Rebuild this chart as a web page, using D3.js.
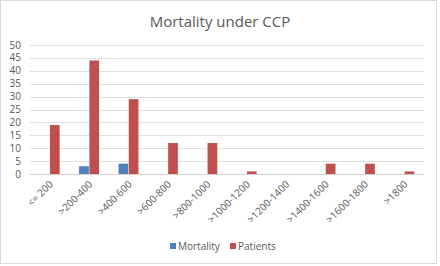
<!DOCTYPE html>
<html>
<head>
<meta charset="utf-8">
<script src="https://cdn.jsdelivr.net/npm/d3@7"></script>
<style>
  body { margin: 0; background: #fff; }
  svg { display: block; font-family: "Open Sans", "Noto Sans", sans-serif; }
</style>
</head>
<body>
<svg id="chart" width="440" height="266"></svg>
<script>
// data
var categories = ["<= 200", ">200-400", ">400-600", ">600-800", ">800-1000",
                  ">1000-1200", ">1200-1400", ">1400-1600", ">1600-1800", ">1800"];
var mortality = [0, 3, 4, 0, 0, 0, 0, 0, 0, 0];
var patients = [19, 44, 29, 12, 12, 1, 0, 4, 4, 1];
var seriesNames = ["Mortality", "Patients"];
var yTicks = [0, 5, 10, 15, 20, 25, 30, 35, 40, 45, 50];

var colors = ["#4F81BD", "#C0504D"];
var width = 440, height = 266,
    margin = { top: 45, bottom: 92, left: 30, right: 16 };

var svg = d3.select("#chart");

// chart frame
svg.append("rect")
    .attr("x", 0.5).attr("y", 0.5)
    .attr("width", width - 4).attr("height", height - 3)
    .attr("fill", "#fff")
    .attr("stroke", "#d9d9d9");

svg.append("text")
    .attr("x", 220).attr("y", 27)
    .attr("text-anchor", "middle")
    .style("font-size", "15px")
    .style("fill", "#595959")
    .text("Mortality under CCP");

var x = d3.scaleBand()
    .domain(categories)
    .range([margin.left, width - margin.right]);

var x1 = d3.scaleBand()
    .domain(seriesNames)
    .range([0, x.bandwidth()])
    .paddingInner(0.05)
    .paddingOuter(0.95);

var y = d3.scaleLinear()
    .domain([0, 50])
    .range([height - margin.bottom, margin.top]);

// gridlines
svg.append("g")
    .selectAll("line")
    .data(yTicks)
    .join("line")
    .attr("x1", margin.left).attr("x2", width - margin.right)
    .attr("y1", d => Math.round(y(d)) + 0.5).attr("y2", d => Math.round(y(d)) + 0.5)
    .attr("stroke", d => d === 0 ? "#d0d0d0" : "#e0e0e0");

// y labels
svg.append("g")
    .selectAll("text")
    .data(yTicks)
    .join("text")
    .attr("x", 21)
    .attr("y", d => y(d) + 3.5)
    .attr("text-anchor", "end")
    .style("font-size", "10px")
    .style("fill", "#595959")
    .text(d => d);

// bars
var rows = categories.map((c, i) => ({ cat: c, values: [mortality[i], patients[i]] }));

var groups = svg.append("g")
    .selectAll("g")
    .data(rows)
    .join("g")
    .attr("transform", d => "translate(" + x(d.cat) + ",0)");

groups.selectAll("rect")
    .data(d => d.values.map((v, j) => ({ name: seriesNames[j], value: v, j: j })))
    .join("rect")
    .filter(d => d.value > 0)
    .attr("x", d => x1(d.name))
    .attr("width", x1.bandwidth())
    .attr("y", d => y(d.value))
    .attr("height", d => y(0) - y(d.value))
    .attr("fill", d => colors[d.j]);

// x labels
svg.append("g")
    .selectAll("text")
    .data(categories)
    .join("text")
    .attr("transform", d => "translate(" + (x(d) + x.bandwidth() / 2 + 4) + "," + (y(0) + 11) + ") rotate(-45)")
    .attr("text-anchor", "end")
    .style("font-size", "10px")
    .style("fill", "#595959")
    .text(d => d);

// legend
var legend = svg.append("g")
    .selectAll("g")
    .data(seriesNames)
    .join("g")
    .attr("transform", (d, i) => "translate(" + (170 + i * 60) + ",243)");

legend.append("rect")
    .attr("width", 6).attr("height", 6)
    .attr("fill", (d, i) => colors[i]);

legend.append("text")
    .attr("x", 8).attr("y", 6.5)
    .style("font-size", "10px")
    .style("fill", "#595959")
    .text(d => d);
</script>
</body>
</html>
